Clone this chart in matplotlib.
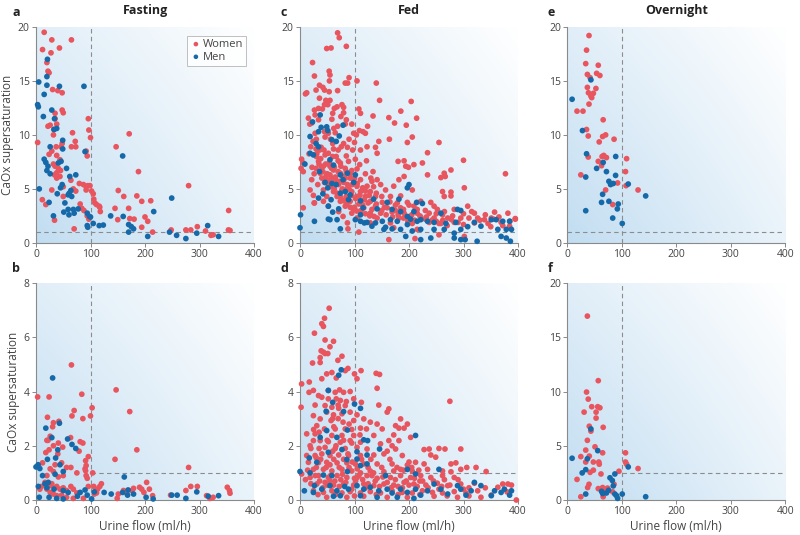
import numpy as np
import matplotlib
matplotlib.use("Agg")
import matplotlib.pyplot as plt

plt.rcParams['font.family'] = ['Open Sans', 'DejaVu Sans']

# ---------------- data (urine flow ml/h, CaOx supersaturation) ----------------
fasting_top_women = [(15,19.5),(29,18.8),(12,17.9),(43,18.05),(65,18.8),(27.5,17.6),(20,16.7),(22,15.9),(24,15.75),
    (30.5,14.2),(40,14.1),(48,13.9),(48,12.3),(50,12.05),(35,12),(35,11.5),(38,11),(26,10.9),(22,10.8),(33,10.5),
    (32,10),(3,9.3),(48,9.2),(46,8.9),(37,8.9),(67,10.2),(72,9.4),(65,8.9),(73,8.9),(29,8.5),(24,8.2),(38,8.1),
    (44,7.7),(32,7.3),(35,7.1),(41,6.9),(45,6.7),(38,6.5),(34,6.3),(38,6.0),(44,6.15),(29,4.9),(50,5.2),(64,5.8),
    (68.5,5.0),(73,4.8),(79.5,5.5),(87,5.4),(92,5.2),(95,5.3),(99,5.3),(92,4.9),(102,4.8),(105,4.55),(50,4.3),
    (11.6,4.0),(18,3.55),(81,3.6),(106,4.05),(108,3.7),(111,3.55),(116,3.4),(117,3.3),(118,2.9),(84,3.2),(88,3.0),
    (94,2.5),(97,2.2),(34,2.1),(70,1.3),(96,11.5),(97,10.45),(100,9.75),(94,8.05),(92,8.5),(147,8.9),(171,10.1),
    (188,6.6),(151,4.85),(161,4.3),(185,4.35),(145,3.2),(170,3.2),(194,3.85),(150,2.15),(172,2.25),(180,2.2),
    (194,1.45),(200,2.4),(205,2.0),(210.5,3.9),(214,1.0),(248,1.2),(280,5.3),(275,1.2),(284,1.2),(296,1.5),
    (311,1.1),(321,0.7),(325,0.75),(353.5,3.0),(353,1.2),(356,1.15)]
fasting_top_men = [(5,14.9),(3,12.8),(4.3,12.6),(13.5,11.7),(15,13.75),(20,14.6),(21,17),(20,15.4),(43,14.5),(88,14.5),
    (29,12.3),(34,11.5),(33,10.5),(38,10.6),(49,9.5),(49,8.7),(26,8.9),(15,7.75),(18,7.45),(22,7.1),(41,7.4),
    (46,7.55),(20,6.7),(26,6.4),(56,6.9),(62,6.15),(73,6.3),(90,8.45),(6,5.0),(48,5.4),(45,5.1),(64,4.85),(61,4.6),
    (59,4.45),(65.5,4.3),(39,4.55),(24,3.75),(53,3.7),(59,3.1),(68.5,3.1),(77.5,3.15),(51,2.85),(70,2.75),(60.5,2.6),
    (32,2.5),(94,2.75),(98,2.45),(100,2.4),(94,1.6),(95,1.45),(105,1.8),(116,1.6),(123.5,1.65),(137,2.5),(160,2.45),
    (159,8.05),(216,2.9),(170,1.7),(175,1.5),(179,1.3),(170,1.0),(205,0.6),(249,4.15),(245,1.0),(258,0.7),(275,0.4),
    (295,0.9),(315,1.6),(335,0.6)]

fasting_bot_women = [(65,4.98),(3,3.8),(24,3.8),(84,3.9),(147,4.06),(172,3.26),(70,3.3),(66,3.1),(103,3.4),(100,3.1),
    (86,3.0),(42,2.9),(32,2.85),(30.5,2.7),(21,3.05),(26,2.35),(20,2.2),(22,2.2),(41,2.1),(63.5,2.3),(81,2.15),
    (86,2.1),(79,1.8),(18,1.75),(24,1.85),(32,2.0),(49,1.95),(40,1.7),(185,1.85),(145,1.5),(96,1.6),(91,1.45),
    (92,1.27),(90,1.15),(91,1.08),(280,1.2),(104,1.0),(12,1.37),(26,1.15),(35,1.3),(47,1.37),(56,1.2),(64,1.2),
    (75,1.0),(92,0.9),(94,0.8),(50,0.9),(41,0.85),(32,1.05),(20,0.9),(16.5,0.65),(26,0.53),(29,0.6),(35,0.45),
    (38,0.5),(44,0.4),(50,0.45),(56,0.35),(64,0.5),(68.5,0.4),(75,0.26),(7,0.4),(10,0.5),(20,0.4),(26,0.28),
    (32,0.22),(38,0.16),(47,0.18),(56,0.1),(68.5,0.06),(87,0.06),(96,0.5),(106,0.5),(113,0.4),(117,0.5),(120,0.6),
    (111,0.26),(107,0.22),(151,0.22),(160.5,0.35),(166,0.26),(176,0.35),(179,0.43),(190,0.47),(194,0.4),(203,0.65),
    (208,0.4),(198,0.28),(214,0.16),(149,0.06),(247,0.18),(284,0.5),(296,0.5),(313,0.16),(319,0.06),(325,0.1),
    (351,0.47),(355,0.35),(356,0.25),(275,0.35)]
fasting_bot_men = [(30.5,4.5),(43,2.83),(18,2.65),(29,2.3),(58,2.25),(66,2.05),(73,1.9),(40,1.85),(36,1.55),(21,1.5),
    (44,1.3),(0,1.22),(4,1.3),(7,1.16),(12,0.9),(35,0.95),(50,1.05),(162,0.85),(16.5,0.6),(22.6,0.65),(4.3,0.5),
    (20,0.45),(33,0.4),(50,0.35),(59,0.28),(81,0.28),(90,0.37),(107,0.3),(125,0.28),(138,0.22),(159,0.28),(169,0.37),
    (179,0.22),(168,0.18),(6,0.1),(24,0.1),(38,0.06),(50,0.04),(76,0.14),(94,0.18),(202,0.1),(215,0.04),(249,0.18),
    (259,0.18),(275,0.06),(295,0.3),(316,0.14),(335,0.16),(102,0.04)]

fed_top_women = [(69,19.45),(72,19.0),(49,18.0),(57,18.05),(85,18.2),(23,16.7),(53.5,15.9),(55,15.55),(26.5,15.45),
    (90,15.3),(104.6,15.0),(140,14.8),(83,14.8),(87.4,14.8),(35.7,14.6),(54,15.0),(42,14.4),(45,14.15),(29.5,14.15),
    (12.3,13.9),(69,14.1),(53.5,14.0),(35.7,13.4),(146,13.2),(47.4,13.2),(55,13.2),(51,12.8),(204,13.1),(45,12.8),
    (68,12.6),(77,12.8),(63,12.45),(80,12.55),(108,12.4),(185,12.2),(26.5,12.3),(34,12.45),(41,12.4),(80,12.05),
    (111,12.0),(134,11.75),(163,11.6),(214,11.55),(173.5,11.1),(15.4,11.55),(21.5,11.1),(27.7,11.85),(34,11.4),
    (58.5,11.45),(69,10.8),(85,11.4),(83,11.0),(124,10.8),(195,10.9),(109,10.4),(115.7,10.3),(120,10.15),(98.5,10.15),
    (103.4,10.0),(27.7,10.15),(52,10.15),(64.6,10.2),(206,9.8),(164,9.6),(255,9.3),(197,9.3),(144.6,9.4),(138.5,8.85),
    (19.7,8.9),(29.5,8.7),(38.8,8.85),(61.5,8.7),(75.7,8.9),(87,8.85),(96.6,8.6),(111,8.6),(123,8.9),(141.5,8.3),
    (234,8.35),(16.6,8.25),(30.8,8.25),(46,8.15),(66.5,8.0),(85,8.05),(101.5,7.75),(122,7.6),(180,7.55),(191,7.6),
    (300,7.65),(3,7.75),(6,7.4),(34,7.55),(54,7.45),(74,7.4),(89,7.55),(109.5,7.25),(209,7.25),(224.6,7.4),(2,6.9),
    (29.5,6.9),(43,7.1),(61.5,6.75),(83,6.9),(104.6,6.85),(134,6.6),(194,7.1),(199,7.0),(277,6.75),(6,6.6),(37,6.45),
    (55,6.3),(74,6.45),(92,6.4),(120,6.4),(234,6.3),(191,6.15),(264.6,6.45),(266.5,6.15),(258.5,6.05),(377,6.4),
    (21.5,5.85),(46,5.85),(64.6,5.85),(83,6.0),(98.5,5.85),(111,5.85),(132,5.7),(141.5,5.85),(181.5,5.85),(32.6,5.4),
    (52,5.4),(71,5.4),(87,5.4),(104.6,5.25),(123,5.25),(148,5.4),(172,5.25),(301.5,5.1),(18.5,4.9),(43,4.9),
    (61.5,4.75),(77,4.9),(95,4.75),(111,4.75),(129,4.75),(157,4.9),(206,4.9),(261.5,4.75),(277,4.7),(24.6,4.4),
    (49,4.3),(68,4.3),(85,4.3),(104.6,4.3),(120,4.3),(138.5,4.3),(166,4.3),(184.6,4.35),(264.6,4.3),(277,4.35),
    (43,3.85),(74,3.85),(92,3.85),(111,3.75),(129,3.85),(151,3.75),(178.5,3.7),(197,3.75),(221.5,3.85),(240,3.75),
    (26,3.7),(52,3.4),(83,3.4),(100,3.3),(117,3.25),(138.5,3.4),(160,3.25),(184.6,3.25),(209,3.4),(246,3.4),
    (307.7,3.4),(283,3.1),(252,3.1),(71,2.9),(95,2.75),(111,2.85),(129,2.75),(148,2.75),(169,2.85),(191,2.75),
    (215,2.75),(237,2.75),(261.5,2.6),(320,2.75),(357,2.85),(381.5,2.75),(79,2.45),(104.6,2.3),(141.5,2.3),
    (181.5,2.3),(221.5,2.4),(246,2.3),(271,2.3),(295,2.3),(326,2.3),(351,2.3),(395,2.25),(338.5,2.15),(278,2.15),
    (87,1.85),(129,1.85),(166,1.85),(206,1.8),(237,1.9),(258.5,1.8),(283,1.9),(320,1.85),(369,1.9),(384.6,1.55),
    (88,1.3),(108,1.0),(172,1.4),(215,1.25),(163,0.3),(211,0.4),(255,0.75),(301.5,0.6),(26.5,3.7),(6,3.25),
    (40,7.0),(48,6.2),(58,6.9),(66,5.6),(78,6.2),(90,5.0),(36,8.6),(56,9.6),(70,7.6),(95,6.7),(115,5.1),(62,10.6),
    (45,10.3),(30,9.6),(80,9.2),(100,9.3),(130,6.0),(140,4.6),(155,3.3),(175,3.0),(190,3.1),(205,2.6),(230,2.2),
    (250,2.0),(300,1.7),(345,1.8),(365,2.4),(395,2.2),(24,9.4),(18,11.0),(10,13.8),
    (40,6.0),(45,5.6),(52,5.8),(57,5.2),(63,5.0),(68,4.6),(75,4.2),(80,3.9),(86,3.6),(92,3.3),(98,3.1),(104,2.95),
    (112,3.0),(120,2.7),(128,2.5),(136,2.45),(35,7.3),(42,6.6),(50,6.4),(58,6.0),(65,6.1),(72,5.7),(80,5.6),(88,5.1),
    (95,4.4),(102,4.1),(108,3.6),(115,3.5),(125,3.7),(132,3.1),(30,8.0),(38,7.8),(47,7.3),(55,7.1),(63,7.0),(70,6.6),
    (78,5.0),(85,4.9),(96,5.4),(110,4.4),(118,4.0),(127,4.4),(140,3.6),(150,3.0),(158,2.6),(170,2.4),(180,2.6),
    (190,2.3),(198,2.0),(210,2.1),(220,2.5),(232,2.4),(242,2.1),(255,1.8),(262,2.1),(270,1.6),(290,1.9),(310,2.3),
    (330,2.1),(350,1.5),(372,1.6),(22,7.0),(26,6.4),(44,8.6),(52,8.3),(60,8.0),(75,7.1),(85,6.6),(92,6.0),(105,5.5),
    (46,9.8),(60,9.2),(70,8.6),(90,9.6),(95,11.0),(75,11.7),(60,12.0),(100,6.0),(120,4.8),(135,5.2),(150,4.3),
    (165,3.8),(175,3.5),(200,3.5),(215,3.1),(230,3.0),(250,2.7),(265,2.9),(280,2.5),(300,2.7),(315,2.9),(340,2.6),
    (355,2.2),(385,2.0)]
fed_top_men = [(18.5,9.85),(23,11.2),(37,11.85),(38.8,10.7),(34,10.3),(49,10.75),(51,10.4),(79,10.9),(72,9.9),
    (58.5,9.55),(66.5,9.4),(29.5,9.2),(34,8.9),(18.5,8.3),(9,7.3),(24.6,8.15),(35.7,6.6),(55,7.7),(61.5,7.2),
    (74,6.3),(87,6.45),(101.5,6.3),(46,5.6),(58.5,5.5),(66.5,5.4),(79,5.85),(98.5,5.6),(51,5.1),(42,4.55),(74,4.6),
    (83,4.75),(92,4.45),(200,5.4),(197,5.1),(34,4.15),(57,4.0),(89,4.0),(111,3.9),(135,4.05),(160,3.75),(181.5,4.05),
    (214,3.75),(224.6,3.65),(52,3.4),(71,3.15),(60,2.85),(115.7,3.25),(141.5,3.15),(169,3.1),(184.6,2.9),(209,2.9),
    (258.5,2.75),(289,3.1),(295,3.0),(1,2.6),(26.5,2.0),(68,2.15),(111,2.6),(111,2.0),(123,1.9),(138.5,1.85),
    (151,2.0),(166,2.15),(178.5,2.0),(197,2.45),(203,2.2),(215,2.0),(221.5,2.15),(234,2.0),(246,1.9),(267.7,1.8),
    (286,1.9),(295,1.25),(307.7,1.5),(320,1.9),(332,1.55),(351,2.15),(360,2.15),(372,2.0),(384.6,2.0),(363,1.25),
    (378.5,1.25),(388,1.25),(0,1.4),(52,2.2),(74,1.3),(55,2.15),(101.5,2.15),(132,1.55),(154,1.25),(169,1.3),
    (184.6,1.25),(197,1.7),(206,1.1),(221.5,1.25),(246,1.25),(264.6,1.25),(283,0.9),(295,0.3),(303,0.3),(283,0.45),
    (325,0.15),(194,0.6),(221.5,0.3),(240,0.45),(369,0.6),(378.5,0.45),(386,0.15),(157,1.45),(118,1.85)]

fed_bot_women = [(53.5,7.07),(45,6.7),(40,6.5),(43,6.4),(26.5,6.15),(46,5.9),(61.5,5.85),(55,5.65),(38.8,5.5),
    (43,5.45),(46,5.4),(51,5.4),(37,5.25),(77,5.3),(23,5.05),(37,5.07),(69.5,5.15),(3,4.28),(17,4.35),(40,4.47),
    (49,4.65),(58.5,4.7),(83,4.77),(88,4.85),(100,4.65),(104.6,4.47),(112,4.77),(139.7,4.67),(146,4.63),(66.5,4.5),
    (2,3.42),(16.6,3.97),(24.6,4.04),(52,4.04),(64.6,3.97),(72.6,4.06),(80,3.97),(92,4.0),(141.5,4.12),(34,3.85),
    (40,3.79),(52,3.73),(66.5,3.73),(74,3.67),(85,3.63),(98.5,3.73),(112.6,3.6),(275,3.64),(27.7,3.5),(46,3.48),
    (58.5,3.42),(71,3.38),(83,3.48),(144.6,3.5),(163,3.36),(160,3.24),(49,3.24),(61.5,3.14),(77,3.18),(92,3.24),
    (104.6,3.14),(117,2.99),(184.6,2.99),(24.6,3.11),(37,2.99),(57,2.93),(79,2.87),(98.5,2.93),(129,2.87),
    (141.5,2.8),(197,2.8),(175.4,2.74),(181.5,2.65),(191,2.65),(30.8,2.74),(45,2.62),(64.6,2.62),(83,2.62),
    (111,2.65),(122,2.62),(150.8,2.62),(12.3,2.44),(27.7,2.44),(58.5,2.38),(77,2.38),(98.5,2.38),(135.4,2.38),
    (172,2.4),(24.6,2.19),(37,2.19),(52,2.15),(74,2.13),(92,2.19),(111,2.13),(147.7,2.07),(163,2.19),(181.5,2.19),
    (203,2.31),(227.7,1.86),(18.5,2.0),(46,1.94),(64.6,1.9),(83,1.9),(104.6,1.94),(123,1.88),(169,2.0),(175.4,1.88),
    (237,1.88),(255,1.9),(266,1.88),(295,1.88),(12.3,1.64),(27.7,1.64),(40,1.7),(55,1.64),(71,1.66),(89,1.64),
    (111,1.64),(135.4,1.66),(154,1.7),(187.7,1.64),(240,1.66),(249,1.58),(15.4,1.39),(34,1.38),(49,1.39),(68,1.37),
    (86,1.37),(101.5,1.33),(117,1.33),(141.5,1.33),(169,1.33),(197,1.29),(212,1.39),(227.7,1.33),(277,1.33),
    (286,1.37),(306,1.2),(323,1.2),(341.5,1.05),(3,0.96),(24.6,1.13),(43,1.13),(58.5,1.07),(77,1.13),(95,1.07),
    (111,1.0),(129,1.07),(154,1.04),(172,1.07),(184.6,1.13),(206,1.07),(234,1.13),(261.5,1.07),(277,1.04),(295,1.13),
    (18.5,0.83),(34,0.9),(52,0.83),(68,0.9),(86,0.83),(104.6,0.83),(123,0.9),(141.5,0.8),(166,0.83),(184.6,0.9),
    (203,0.83),(221.5,0.9),(240,0.83),(261.5,0.9),(283,0.83),(30.8,0.59),(46,0.65),(61.5,0.55),(80,0.59),(98.5,0.55),
    (117,0.59),(135.4,0.53),(154,0.59),(172,0.55),(191,0.65),(209,0.59),(231,0.55),(252,0.62),(271,0.53),(295,0.59),
    (320,0.62),(363,0.47),(372,0.59),(381.5,0.59),(388,0.55),(24.6,0.34),(43,0.28),(58.5,0.34),(77,0.26),(92,0.31),
    (111,0.26),(129,0.31),(147.7,0.26),(169,0.34),(187.7,0.28),(206,0.26),(224.6,0.34),(243,0.28),(261.5,0.26),
    (283,0.31),(304.6,0.26),(326,0.34),(351,0.18),(49,0.1),(86,0.1),(117,0.14),(160,0.1),(197,0.1),(246,0.14),
    (289,0.1),(332,0.1),(397,0.0),(35,1.9),(62,2.7),(70,3.0),(95,2.1),(90,1.2),(60,1.8),(30,1.55),(75,0.75),
    (100,0.8),(130,1.5),(160,1.8),(200,1.4),(220,0.7),(260,0.5),(300,0.4),(340,0.45),(380,0.3),(55,0.7),(120,0.45),
    (20,0.6),(28,0.9),(36,0.7),(42,0.45),(50,0.55),(56,0.9),(64,0.7),(72,0.5),(78,0.95),(84,0.65),(95,0.4),(102,0.7),
    (108,0.9),(115,0.75),(125,0.6),(132,0.9),(138,0.7),(146,0.5),(152,0.85),(160,0.65),(167,0.45),(175,0.75),
    (180,0.5),(188,0.45),(195,0.7),(200,0.55),(210,0.8),(215,0.5),(225,0.7),(235,0.45),(245,0.7),(255,0.4),
    (265,0.75),(275,0.55),(290,0.75),(310,0.45),(30,1.2),(38,1.5),(48,1.2),(55,1.3),(62,1.5),(72,1.2),(80,1.5),
    (88,1.7),(96,1.4),(105,1.15),(113,1.5),(125,1.2),(135,1.0),(150,1.2),(165,1.5),(178,1.2),(190,1.1),(205,1.2),
    (218,1.1),(25,2.6),(35,2.5),(50,2.2),(66,2.0),(80,2.2),(95,2.6),(110,2.4),(60,3.0),(70,3.5),(90,2.8),(20,1.9),
    (14,1.1),(10,0.75),(33,0.2),(65,0.2),(100,0.15),(140,0.2),(180,0.2),(220,0.2),(270,0.15),(310,0.15)]
fed_bot_men = [(75.7,4.8),(71,4.6),(52,4.04),(100,3.54),(111,3.38),(48,3.27),(60,3.6),(80,3.26),(49,2.56),(87,2.58),
    (37,2.31),(67.7,2.31),(117,2.22),(124,2.19),(212,2.38),(146,1.88),(104.6,1.78),(17,1.55),(52,1.76),(77,1.86),
    (123,1.66),(30.8,1.39),(86,1.49),(104.6,1.51),(111,1.27),(123,1.33),(0,1.05),(18.5,1.0),(43,0.92),(58.5,0.9),
    (87,1.05),(157,0.9),(197,1.13),(212,0.96),(255,1.13),(8,0.34),(24.6,0.28),(26.5,0.53),(40,0.4),(55,0.53),
    (67.7,0.34),(82,0.5),(89,0.4),(104.6,0.53),(117,0.4),(129,0.47),(144.6,0.34),(160,0.4),(169,0.26),(184.6,0.4),
    (197,0.28),(212,0.4),(221.5,0.18),(234,0.34),(246,0.59),(258.5,0.4),(271,0.22),(289,0.53),(295,0.4),(304.6,0.18),
    (314,0.34),(320,0.65),(332,0.53),(351,0.16),(357,0.34),(369,0.28),(375,0.4),(384.6,0.18),(388,0.34),(111,0.16),
    (74,0.16),(141.5,0.1),(178.5,0.1),(209,0.06),(61.5,0.14)]

overnight_top_women = [(40,19.2),(35.5,17.85),(34,16.6),(57,16.45),(54,15.7),(60,15.5),(37,15.6),(42,15.3),(37,14.4),
    (52.7,14.3),(39,13.9),(48,13.85),(43.5,13.6),(45,13.45),(40,12.85),(18,12.2),(29,12.2),(66,11.4),(35.5,10.5),
    (38.6,9.9),(65,9.85),(70.5,10.0),(58.7,9.35),(86,9.6),(38.6,7.95),(64,8.0),(67,8.1),(72,7.9),(109,7.8),
    (57,7.55),(63,7.15),(107,6.6),(25,6.3),(92.5,5.55),(108,5.3),(130,4.9),(70.5,4.9),(83.5,3.55)]
overnight_top_men = [(9,13.3),(43.5,15.1),(28,10.4),(35.5,8.25),(89,8.0),(66,7.45),(54,6.9),(72,6.6),(34,6.1),
    (88.8,6.25),(76.5,5.7),(79.6,5.4),(84.5,5.5),(112,5.45),(65,4.5),(144,4.35),(63,3.75),(76.5,3.85),(93.7,3.6),
    (92,3.15),(34,2.98),(83.5,2.3),(101,1.8)]

overnight_bot_women = [(37,16.95),(57,11.0),(35.5,9.95),(38.6,9.3),(31,8.1),(45,8.6),(56,8.6),(60,8.5),(53,8.1),
    (53,7.55),(40.5,6.8),(43.5,6.35),(66,6.7),(37,5.5),(51,4.9),(34,4.6),(25,4.0),(40.5,4.05),(65,4.35),(107,4.35),
    (34,3.5),(48,3.5),(58,3.5),(58.8,3.3),(107,3.5),(109,3.3),(130,2.9),(95,2.65),(42,2.55),(48,2.75),(62,2.4),
    (18,1.9),(40,1.45),(37.5,1.15),(57,1.05),(65,1.15),(71,0.95),(74,1.1),(83.5,0.75),(86,1.45),(25,0.3),(66,0.3)]
overnight_bot_men = [(9,3.85),(43.5,6.55),(56,4.55),(37,3.8),(34,2.8),(27.5,2.5),(87.5,2.4),(112,3.05),(78.5,2.05),
    (82.8,1.8),(84.5,1.3),(63,0.8),(65,0.6),(72,0.65),(76,0.9),(87.5,0.55),(90.5,0.4),(101,0.55),(92.5,0.15),
    (34,0.55),(144,0.3)]

panel_letters = ['a', 'b', 'c', 'd', 'e', 'f']
column_titles = ['Fasting', 'Fed', 'Overnight']
x_ticks = [0, 100, 200, 300, 400]
y_ticks_top = [0, 5, 10, 15, 20]
y_ticks_sat = [0, 2, 4, 6, 8]
# threshold lines: (x threshold, y threshold, horizontal line starts at x)
thresholds = {
    'a': (100, 1.0, 0), 'c': (100, 1.0, 0), 'e': (100, 1.0, 0),
    'b': (100, 1.0, 100), 'd': (100, 1.0, 100), 'f': (100, 2.5, 100),
}

WOMEN = '#e8555e'
MEN = '#1669a8'

fig = plt.figure(figsize=(8, 5.35), dpi=100)

lefts = [0.045, 0.375, 0.709]
width = 0.2725
rows = [(0.546, 0.4037), (0.0654, 0.4056)]

# gradient background image
gx = np.linspace(0, 1, 200)
gy = np.linspace(0, 1, 200)
GX, GY = np.meshgrid(gx, gy)
w = np.clip(0.92 - 0.47 * GY - 0.60 * GX + 0.15 * GX * GY, 0, 1)
c0 = np.array([188, 218, 240]) / 255.0
white = np.array([1.0, 1.0, 1.0])
grad = white[None, None, :] * (1 - w[..., None]) + c0[None, None, :] * w[..., None]

data = {
    'a': (fasting_top_women, fasting_top_men, y_ticks_top),
    'b': (fasting_bot_women, fasting_bot_men, y_ticks_sat),
    'c': (fed_top_women, fed_top_men, y_ticks_top),
    'd': (fed_bot_women, fed_bot_men, y_ticks_sat),
    'e': (overnight_top_women, overnight_top_men, y_ticks_top),
    'f': (overnight_bot_women, overnight_bot_men, y_ticks_top),
}

for ci in range(3):
    for ri in range(2):
        letter = panel_letters[ci * 2 + ri]
        women, men, yt = data[letter]
        b, h = rows[ri]
        ax = fig.add_axes([lefts[ci], b, width, h])
        ymax = yt[-1]
        ax.set_xlim(0, 400)
        ax.set_ylim(0, ymax)
        ax.imshow(grad, extent=[0, 1, 0, 1], transform=ax.transAxes, origin='lower',
                  aspect='auto', zorder=0, interpolation='bilinear')
        xt, ythr, hstart = thresholds[letter]
        ax.axvline(xt, color='#8c8c8c', lw=0.8, ls=(0, (4, 3)), zorder=1)
        ax.plot([hstart, 400], [ythr, ythr], color='#8c8c8c', lw=0.8, ls=(0, (4, 3)), zorder=1)
        wx, wy = zip(*women)
        mx, my = zip(*men)
        ax.scatter(wx, wy, s=17, color=WOMEN, edgecolors='none', zorder=3, label='Women', clip_on=False)
        ax.scatter(mx, my, s=17, color=MEN, edgecolors='none', zorder=3, label='Men', clip_on=False)
        ax.set_xticks(x_ticks)
        ax.set_yticks(yt)
        for s in ['top', 'right']:
            ax.spines[s].set_visible(False)
        for s in ['left', 'bottom']:
            ax.spines[s].set_color('#8a8a8a')
            ax.spines[s].set_linewidth(0.8)
        ax.tick_params(direction='out', length=3, width=0.7, color='#8a8a8a',
                       labelsize=7.5, labelcolor='#444444', pad=1.5)
        if ri == 0:
            ax.set_title(column_titles[ci], fontsize=9, fontweight='bold', color='#222222', pad=9)
        else:
            ax.set_xlabel('Urine flow (ml/h)', fontsize=8.5, color='#444444', labelpad=2)
        if ci == 0:
            ax.set_ylabel('CaOx supersaturation', fontsize=8.5, color='#444444', labelpad=3)
        # panel letter
        ax.text(-0.11 if ci == 0 else -0.09, 1.065, letter, transform=ax.transAxes, fontsize=9,
                fontweight='bold', color='#222222', ha='left', va='center')
        if letter == 'a':
            leg = ax.legend(loc='upper right', fontsize=8, frameon=True, fancybox=False,
                            borderpad=0.3, labelspacing=0.15, handletextpad=0.1,
                            handlelength=1.0, markerscale=0.8, bbox_to_anchor=(0.99, 0.985))
            leg.get_frame().set_edgecolor('#b0b0b0')
            leg.get_frame().set_linewidth(0.7)
            for t in leg.get_texts():
                t.set_color('#444444')

fig.savefig('out.png', dpi=100)
